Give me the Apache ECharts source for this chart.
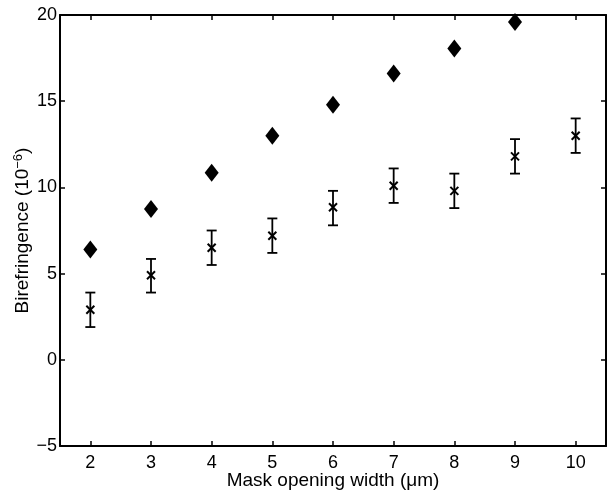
<!DOCTYPE html>
<html><head><meta charset="utf-8">
<script src="https://cdn.jsdelivr.net/npm/echarts@6/dist/echarts.min.js"></script>
<style>html,body{margin:0;padding:0;background:#fff}#c{width:608px;height:494px}</style>
</head><body><div id="c"></div>
<script>
const widths = [2, 3, 4, 5, 6, 7, 8, 9, 10];
const diamondX = [2, 3, 4, 5, 6, 7, 8, 9];
const diamondVals = [6.4, 8.75, 10.85, 13.0, 14.8, 16.6, 18.05, 19.6];
const crossVals = [2.9, 4.9, 6.5, 7.2, 8.85, 10.1, 9.8, 11.8, 13.0];
const crossLow = [1.9, 3.9, 5.5, 6.2, 7.8, 9.1, 8.8, 10.8, 12.0];
const crossHigh = [3.9, 5.85, 7.5, 8.2, 9.8, 11.1, 10.8, 12.8, 14.0];
const xTicks = [2, 3, 4, 5, 6, 7, 8, 9, 10];

const font = 'Liberation Sans, Arial, Helvetica, sans-serif';
const chart = echarts.init(document.getElementById('c'), null, {renderer: 'canvas'});

const errData = widths.map((w, i) => [w, crossVals[i], crossLow[i], crossHigh[i]]);
const axisLine = {show: true, onZero: false, lineStyle: {color: '#000', width: 2}};
const tick = {show: true, inside: true, length: 5, lineStyle: {color: '#000', width: 1.5}};

chart.setOption({
  animation: false,
  grid: {left: 60, top: 15, right: 2, bottom: 48, containLabel: false, outerBoundsMode: 'none'},
  xAxis: [{
    type: 'value', min: 1.5, max: 10.5, position: 'bottom',
    axisLine: axisLine, splitLine: {show: false},
    axisTick: Object.assign({}, tick, {customValues: xTicks}),
    axisLabel: {customValues: xTicks, color: '#000', fontSize: 18, fontFamily: font, margin: 8},
    name: 'Mask opening width (\u03bcm)', nameLocation: 'middle', nameGap: 25, nameMoveOverlap: false,
    nameTextStyle: {color: '#000', fontSize: 19, fontFamily: font}
  }, {
    type: 'value', min: 1.5, max: 10.5, position: 'top',
    axisLine: axisLine, splitLine: {show: false},
    axisTick: Object.assign({}, tick, {customValues: xTicks}),
    axisLabel: {show: false, customValues: xTicks}
  }],
  yAxis: [{
    type: 'value', min: -5, max: 20, interval: 5, position: 'left',
    axisLine: axisLine, splitLine: {show: false}, axisTick: tick,
    axisLabel: {color: '#000', fontSize: 18, fontFamily: font, margin: 3,
      formatter: v => String(v).replace('-', '\u2212')},
    name: '{a|Birefringence (10}{s|\u22126}{a|)}', nameLocation: 'middle', nameGap: 26, nameMoveOverlap: false,
    nameTextStyle: {color: '#000', fontSize: 19, fontFamily: font,
      rich: {a: {fontSize: 19, fontFamily: font, color: '#000'},
             s: {fontSize: 13, fontFamily: font, color: '#000', verticalAlign: 'bottom', padding: [0, 0, 9, 0]}}}
  }, {
    type: 'value', min: -5, max: 20, interval: 5, position: 'right',
    axisLine: axisLine, splitLine: {show: false}, axisTick: tick,
    axisLabel: {show: false}
  }],
  series: [{
    type: 'scatter', symbol: 'diamond', symbolSize: [14, 18],
    itemStyle: {color: '#000', opacity: 1},
    data: diamondX.map((x, i) => [x, diamondVals[i]])
  }, {
    type: 'custom',
    data: errData,
    renderItem: function (params, api) {
      const x = api.value(0);
      const c = api.coord([x, api.value(1)]);
      const lo = api.coord([x, api.value(2)]);
      const hi = api.coord([x, api.value(3)]);
      const cap = 5, m = 4;
      const st = {stroke: '#000', lineWidth: 1.8};
      return {type: 'group', children: [
        {type: 'line', shape: {x1: c[0], y1: lo[1], x2: c[0], y2: hi[1]}, style: st},
        {type: 'line', shape: {x1: c[0] - cap, y1: lo[1], x2: c[0] + cap, y2: lo[1]}, style: st},
        {type: 'line', shape: {x1: c[0] - cap, y1: hi[1], x2: c[0] + cap, y2: hi[1]}, style: st},
        {type: 'line', shape: {x1: c[0] - m, y1: c[1] - m, x2: c[0] + m, y2: c[1] + m}, style: {stroke: '#000', lineWidth: 2}},
        {type: 'line', shape: {x1: c[0] - m, y1: c[1] + m, x2: c[0] + m, y2: c[1] - m}, style: {stroke: '#000', lineWidth: 2}}
      ]};
    }
  }]
});
</script></body></html>
